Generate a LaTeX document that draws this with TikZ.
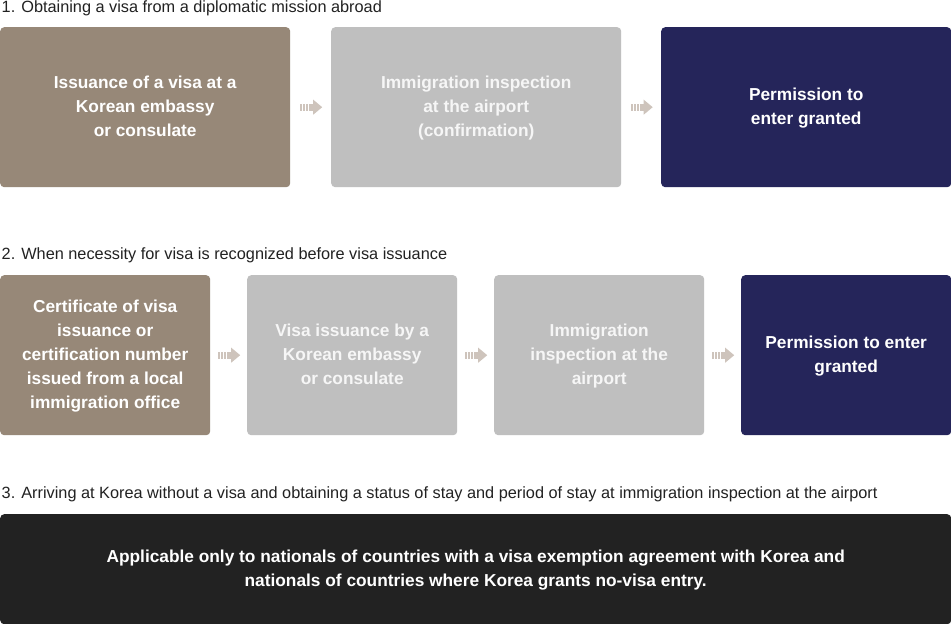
\documentclass[tikz,border=0pt]{standalone}
\usepackage{fontspec}
\setmainfont{Liberation Sans}
\definecolor{taupe}{HTML}{978878}
\definecolor{lgray}{HTML}{BFBFBF}
\definecolor{navy}{HTML}{25255A}
\definecolor{dark}{HTML}{222222}
\definecolor{arrowc}{HTML}{CEC4BC}
\definecolor{ttext}{HTML}{222222}
\definecolor{gtext}{HTML}{F6F6F6}
\begin{document}
\begin{tikzpicture}[x=1pt,y=-1pt,
  box/.style={rectangle,rounded corners=4pt,inner sep=0pt,anchor=north west,align=center,
    font=\fontsize{17.3}{24}\selectfont\bfseries,text=white,text depth=1pt},
  title/.style={anchor=west,inner sep=0pt,font=\fontsize{16.3}{18}\selectfont,text=ttext},
  flow/.pic={
    \fill[arrowc] (-11,-3.5) rectangle (-9,3.5);
    \fill[arrowc] (-8,-3.5) rectangle (-6,3.5);
    \fill[arrowc] (-5,-3.5) rectangle (-3,3.5);
    \fill[arrowc] (-2,-3.5) rectangle (3,3.5);
    \fill[arrowc] (2,-7.5) -- (11,0) -- (2,7.5) -- cycle;
  }]
\useasboundingbox (0,0) rectangle (951,624);
\fill[white] (0,0) rectangle (951,624);

\node[title] (t1) at (1.5,8.5) {1. Obtaining a visa from a diplomatic mission abroad};
\node[box,fill=taupe,minimum width=290pt,minimum height=160pt] (a1) at (0,27)
  {Issuance of a visa at a\\Korean embassy\\or consulate};
\node[box,fill=lgray,text=gtext,minimum width=290pt,minimum height=160pt] (a2) at (331,27)
  {Immigration inspection\\at the airport\\(confirmation)};
\node[box,fill=navy,minimum width=290pt,minimum height=160pt] (a3) at (661,27)
  {Permission to\\enter granted};

\node[title] (t2) at (1.5,255.5) {2. When necessity for visa is recognized before visa issuance};
\node[box,fill=taupe,minimum width=210pt,minimum height=160pt] (b1) at (0,275)
  {Certificate of visa\\issuance or\\certification number\\issued from a local\\immigration office};
\node[box,fill=lgray,text=gtext,minimum width=210pt,minimum height=160pt] (b2) at (247,275)
  {Visa issuance by a\\Korean embassy\\or consulate};
\node[box,fill=lgray,text=gtext,minimum width=210pt,minimum height=160pt] (b3) at (494,275)
  {Immigration\\inspection at the\\airport};
\node[box,fill=navy,minimum width=210pt,minimum height=160pt] (b4) at (741,275)
  {Permission to enter\\granted};

\node[title] (t3) at (1.5,494.5) {3. Arriving at Korea without a visa and obtaining a status of stay and period of stay at immigration inspection at the airport};
\node[box,fill=dark,minimum width=951pt,minimum height=110pt] (c1) at (0,514)
  {Applicable only to nationals of countries with a visa exemption agreement with Korea and\\nationals of countries where Korea grants no-visa entry.};

\foreach \p/\q in {a1/a2,a2/a3,b1/b2,b2/b3,b3/b4}{
  \path (\p.east) -- (\q.west) coordinate[midway] (m\p);
  \pic at ([xshift=0.5pt]m\p) {flow};
}
\end{tikzpicture}
\end{document}
